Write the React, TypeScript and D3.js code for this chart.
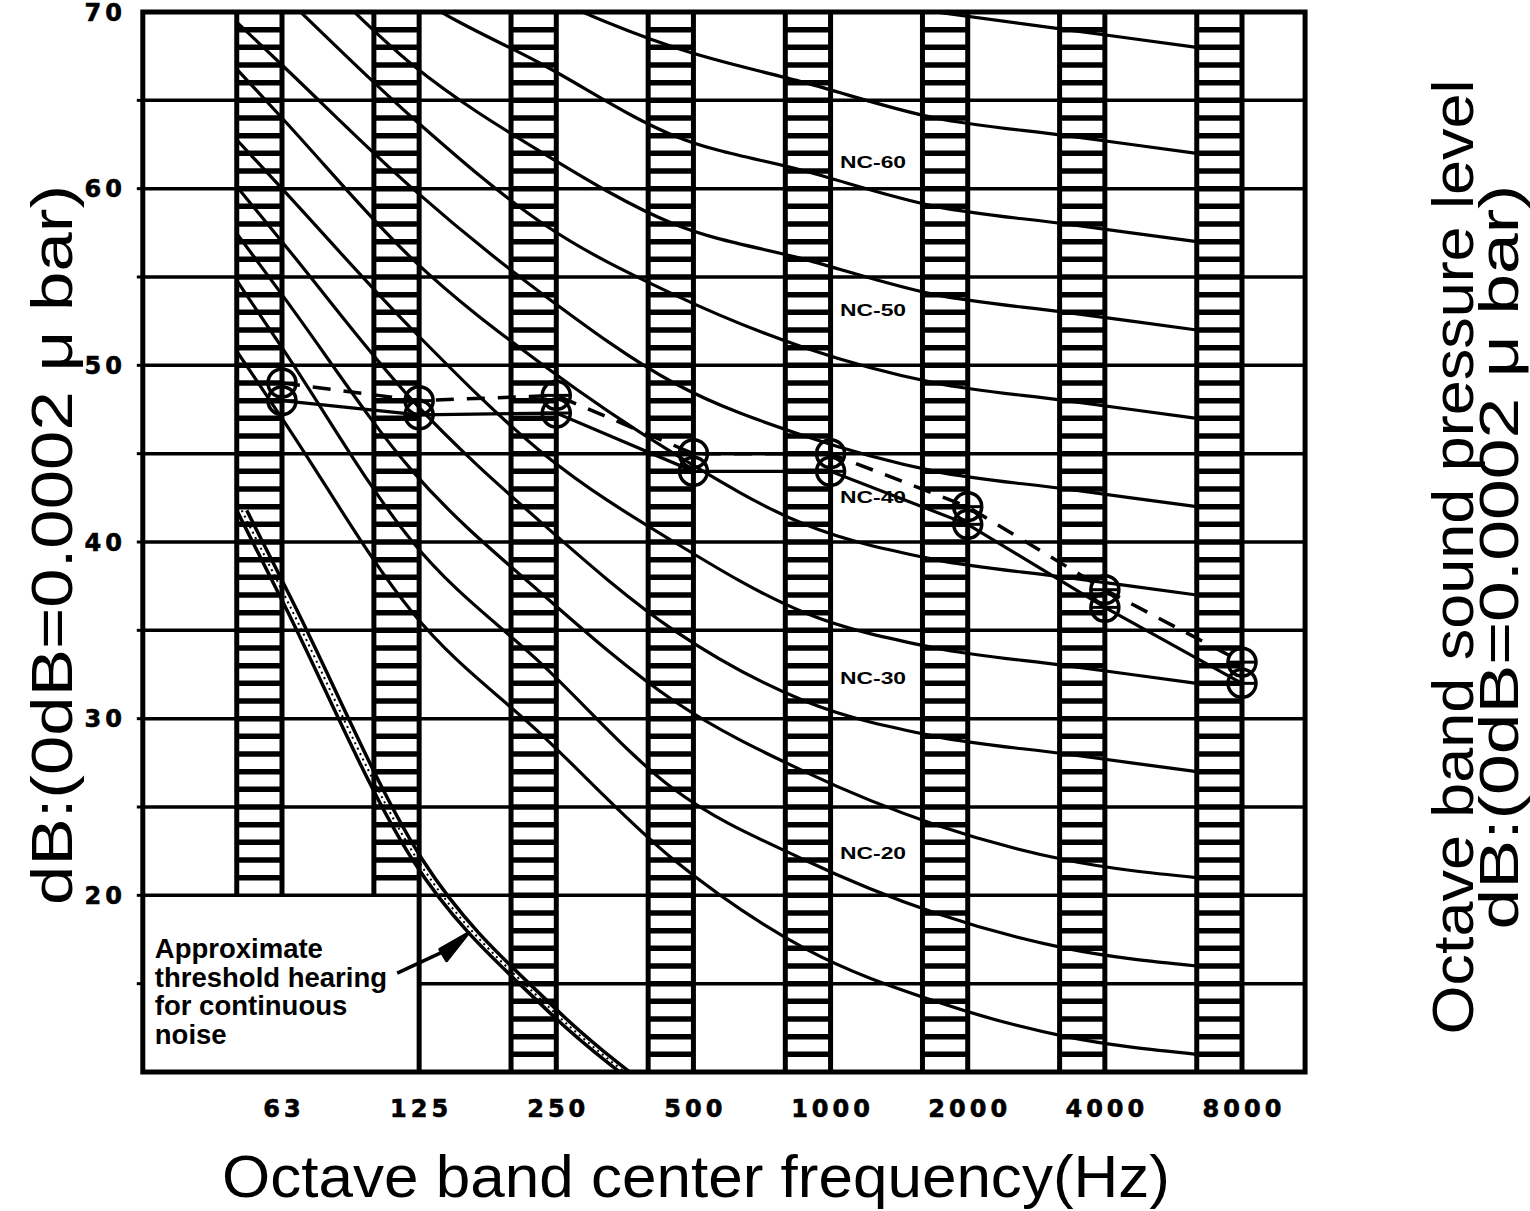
import React from 'react';
import * as d3 from 'd3';

// ---------- data ----------
const bands = ['63', '125', '250', '500', '1000', '2000', '4000', '8000'];
const yTicks = [20, 30, 40, 50, 60, 70];
const gridDb = [15, 20, 25, 30, 35, 40, 45, 50, 55, 60, 65];
const ncNames = ['NC-15', 'NC-20', 'NC-25', 'NC-30', 'NC-35', 'NC-40', 'NC-45', 'NC-50', 'NC-55', 'NC-60', 'NC-65', 'NC-70'];
const nc15 = [47, 36, 29, 22, 17, 14, 12, 11];
const nc20 = [51, 40, 33, 26, 22, 19, 17, 16];
const nc25 = [54, 44, 37, 31, 27, 24, 22, 21];
const nc30 = [57, 48, 41, 35, 31, 29, 28, 27];
const nc35 = [60, 52, 45, 40, 36, 34, 33, 32];
const nc40 = [64, 56, 50, 45, 41, 39, 38, 37];
const nc45 = [67, 60, 54, 49, 46, 44, 43, 42];
const nc50 = [71, 64, 58, 54, 51, 49, 48, 47];
const nc55 = [74, 67, 62, 58, 56, 54, 53, 52];
const nc60 = [77, 71, 67, 63, 61, 59, 58, 57];
const nc65 = [80, 75, 71, 68, 66, 64, 63, 62];
const nc70 = [83, 79, 75, 72, 71, 70, 69, 68];
const ncCurves = [nc15, nc20, nc25, nc30, nc35, nc40, nc45, nc50, nc55, nc60, nc65, nc70];

const measuredDashed = [49.0, 48.0, 48.3, 45.0, 45.0, 42.0, 37.3, 33.2];
const measuredSolid = [48.0, 47.2, 47.3, 44.0, 44.0, 41.0, 36.3, 32.0];
const threshold = [36.7, 22.0, 13.7, 7.7];

const ncLabels = ['NC-60', 'NC-50', 'NC-40', 'NC-30', 'NC-20'];
const ncLabelDb = [61.5, 53.1, 42.5, 32.3, 22.4];
const noteLines = ['Approximate', 'threshold hearing', 'for continuous', 'noise'];

// ---------- layout ----------
const W = 1530;
const H = 1211;
const X_MIN = -1.015;
const X_MAX = 7.46;
const BAND_W = 0.33; // width of hatched band (in octaves)
const x = d3.scaleLinear().domain([0, 7]).range([282, 1242]);
// NC curves are drawn on a slightly compressed octave scale ending at the left edge of the 8000 band
const xc = d3.scaleLinear().domain([0, 7]).range([x(0), x(7 - BAND_W)]);
const y = d3.scaleLinear().domain([10, 70]).range([1072, 12]);
const L = x(X_MIN);
const R = x(X_MAX);
const T = y(70);
const B = y(10);
const T_START = xc.invert(x(-BAND_W)); // curves begin at the left edge of the 63 band

const FONT = "'Liberation Sans', Arial, Helvetica, sans-serif";
const TICK_FONT = "'DejaVu Sans', Verdana, sans-serif";

type P = { t: number; v: number };
function withStart(vals: number[]): P[] {
  const pts = vals.map((v, i) => ({ t: i, v }));
  const v0 = vals[0];
  const v1 = vals[1];
  return [{ t: T_START, v: v0 + (v1 - v0) * T_START }, ...pts];
}

export default function App() {
  const curveLine = d3
    .line<P>()
    .x((d) => xc(d.t))
    .y((d) => y(d.v))
    .curve(d3.curveMonotoneX);
  const measLine = d3
    .line<number>()
    .x((_, i) => x(i))
    .y((d) => y(d));

  const rungDb = d3.range(11, 70);
  const thrPath = curveLine(withStart(threshold)) || '';

  return (
    <svg
      width={W}
      height={H}
      viewBox={`0 0 ${W} ${H}`}
      style={{ position: 'absolute', left: 0, top: 0, background: '#fff' }}
    >
      <defs>
        <clipPath id="plotClip">
          <rect x={L} y={T} width={R - L} height={B - T} />
        </clipPath>
      </defs>
      <rect x={0} y={0} width={W} height={H} fill="#fff" />

      {/* hatched bands */}
      {bands.map((b, i) => {
        const x0 = x(i - BAND_W);
        const x1 = x(i);
        const bottomDb = i < 2 ? 20 : 10;
        return (
          <g key={'band' + b}>
            {rungDb
              .filter((d) => d > bottomDb)
              .map((d) => (
                <line key={d} x1={x0} x2={x1} y1={y(d)} y2={y(d)} stroke="#000" strokeWidth={5.5} />
              ))}
            <line x1={x0} x2={x0} y1={T} y2={y(bottomDb)} stroke="#000" strokeWidth={5} />
            <line x1={x1} x2={x1} y1={T} y2={i === 0 ? y(20) : B} stroke="#000" strokeWidth={5} />
          </g>
        );
      })}

      {/* horizontal grid */}
      {gridDb.map((d) => (
        <line
          key={'g' + d}
          x1={d < 20 ? x(1) : L}
          x2={R}
          y1={y(d)}
          y2={y(d)}
          stroke="#000"
          strokeWidth={3.5}
        />
      ))}

      {/* NC curves */}
      <g clipPath="url(#plotClip)">
        {ncCurves.map((c, k) => (
          <path key={ncNames[k]} d={curveLine(withStart(c)) || ''} fill="none" stroke="#000" strokeWidth={3.2} />
        ))}
        {/* threshold double line */}
        <path d={thrPath} fill="none" stroke="#000" strokeWidth={3.5} />
        <path d={thrPath} fill="none" stroke="#000" strokeWidth={2} strokeDasharray="2 4" transform="translate(5,0)" />
        <path d={thrPath} fill="none" stroke="#000" strokeWidth={3.5} transform="translate(10,0)" />
      </g>

      {/* measured lines */}
      <path d={measLine(measuredDashed) || ''} fill="none" stroke="#000" strokeWidth={3.5} strokeDasharray="18 13" />
      <path d={measLine(measuredSolid) || ''} fill="none" stroke="#000" strokeWidth={3.2} />
      {bands.map((b, i) =>
        [measuredDashed[i], measuredSolid[i]].map((v, j) => {
          const cx = x(i);
          const cy = y(v);
          const r = 14;
          return (
            <g key={'m' + b + j}>
              <circle cx={cx} cy={cy} r={r} fill="none" stroke="#000" strokeWidth={3.5} />
              <line x1={cx - r} x2={cx + r} y1={cy} y2={cy} stroke="#000" strokeWidth={3} />
              <line x1={cx} x2={cx} y1={cy - r} y2={cy + r} stroke="#000" strokeWidth={3} />
            </g>
          );
        })
      )}

      {/* NC labels */}
      {ncLabels.map((t, k) => (
        <text
          key={t}
          x={x(4.31)}
          y={y(ncLabelDb[k])}
          dy="0.35em"
          textAnchor="middle"
          fontFamily={FONT}
          fontWeight="bold"
          fontSize={16}
          textLength={66}
          lengthAdjust="spacingAndGlyphs"
        >
          {t}
        </text>
      ))}

      {/* annotation */}
      {noteLines.map((t, k) => (
        <text key={t} x={L + 12} y={958 + k * 28.5} fontFamily={FONT} fontWeight="bold" fontSize={27.5}>
          {t}
        </text>
      ))}
      <line x1={x(0.84)} y1={y(15.6)} x2={x(1.2)} y2={y(16.9)} stroke="#000" strokeWidth={3.5} />
      <path
        d={`M${x(1.364)},${y(17.9)} L${x(1.15)},${y(16.95)} L${x(1.2)},${y(16.3)} Z`}
        fill="#000"
        stroke="#000"
        strokeWidth={3}
        strokeLinejoin="round"
      />

      {/* frame */}
      <rect x={L} y={T} width={R - L} height={B - T} fill="none" stroke="#000" strokeWidth={5} />
      {d3.range(15, 70, 5).map((d) => (
        <line key={'t' + d} x1={L - 6} x2={L} y1={y(d)} y2={y(d)} stroke="#000" strokeWidth={3} />
      ))}

      {/* y tick labels */}
      {yTicks.map((t) => (
        <text
          key={'yt' + t}
          x={126}
          y={y(t)}
          dy="0.36em"
          textAnchor="end"
          fontFamily={TICK_FONT}
          fontWeight="bold"
          fontSize={24}
          letterSpacing={4}
          stroke="#000"
          strokeWidth={0.6}
        >
          {t}
        </text>
      ))}
      {/* x tick labels */}
      {bands.map((b, i) => (
        <text
          key={'xt' + b}
          x={x(i) + 2}
          y={1117}
          textAnchor="middle"
          fontFamily={TICK_FONT}
          fontWeight="bold"
          fontSize={24}
          letterSpacing={4}
          stroke="#000"
          strokeWidth={0.6}
        >
          {b}
        </text>
      ))}

      {/* axis titles */}
      <text
        x={696}
        y={1197}
        textAnchor="middle"
        fontFamily={FONT}
        fontSize={60}
        textLength={948}
        lengthAdjust="spacingAndGlyphs"
      >
        Octave band center frequency(Hz)
      </text>
      <text
        transform="translate(72,545) rotate(-90)"
        textAnchor="middle"
        fontFamily={FONT}
        fontSize={58}
        textLength={720}
        lengthAdjust="spacingAndGlyphs"
      >
        dB:(0dB=0.0002 μ bar)
      </text>
      <text
        transform="translate(1473,557) rotate(-90)"
        textAnchor="middle"
        fontFamily={FONT}
        fontSize={58}
        textLength={955}
        lengthAdjust="spacingAndGlyphs"
      >
        Octave band sound pressure level
      </text>
      <text
        transform="translate(1518,557) rotate(-90)"
        textAnchor="middle"
        fontFamily={FONT}
        fontSize={55}
        textLength={745}
        lengthAdjust="spacingAndGlyphs"
      >
        dB:(0dB=0.0002 μ bar)
      </text>
    </svg>
  );
}
